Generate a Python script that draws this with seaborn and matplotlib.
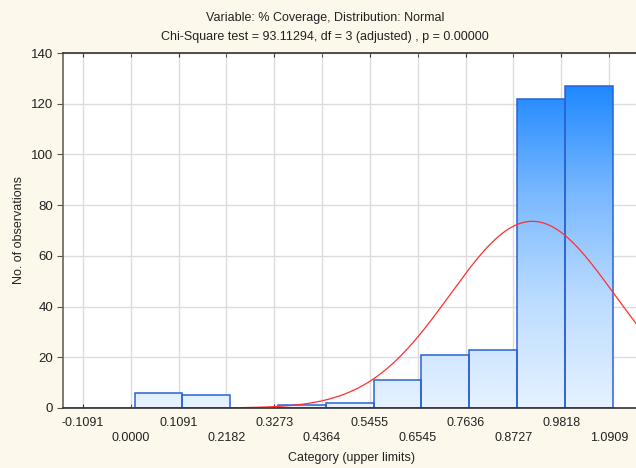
import numpy as np
import pandas as pd
import matplotlib
matplotlib.use("Agg")
import matplotlib.pyplot as plt
from matplotlib.colors import LinearSegmentedColormap
import seaborn as sns

# Histogram classes (upper limits) and observed counts
tick_values = [-0.1091, 0.0000, 0.1091, 0.2182, 0.3273, 0.4364,
               0.5455, 0.6545, 0.7636, 0.8727, 0.9818, 1.0909]
tick_labels = ["-0.1091", "0.0000", "0.1091", "0.2182", "0.3273", "0.4364",
               "0.5455", "0.6545", "0.7636", "0.8727", "0.9818", "1.0909"]
bin_edges = [0.0085, 0.1176, 0.2267, 0.3358, 0.4449, 0.5540,
             0.6630, 0.7721, 0.8812, 0.9903, 1.0994]
counts = [6, 5, 0, 1, 2, 11, 21, 23, 122, 127]

# Fitted normal distribution parameters
fit_mean = 0.916
fit_sd = 0.188

y_ticks = [0, 20, 40, 60, 80, 100, 120, 140]

sns.set_style("white")
plt.rcParams["font.family"] = ["Liberation Sans", "DejaVu Sans"]

fig = plt.figure(figsize=(6.36, 4.68), dpi=100)
fig.patch.set_facecolor("#fdf8ec")
ax = fig.add_axes([63 / 636, 60 / 468, 577 / 636, 355 / 468])
ax.set_facecolor("white")

edges = np.array(bin_edges)
centers = (edges[:-1] + edges[1:]) / 2
width = edges[1] - edges[0]
df = pd.DataFrame({"center": centers, "count": counts})

sns.histplot(data=df, x="center", weights="count", bins=bin_edges, ax=ax,
             stat="count", element="bars", fill=True,
             facecolor="none", edgecolor="#2a62d6", linewidth=1.1,
             alpha=1, zorder=3)

xlim = (-0.1547, 1.1616)
ylim = (0, 140)

# Vertical blue gradient clipped to each bar
cmap = LinearSegmentedColormap.from_list(
    "cov", ["#e6f2ff", "#bcdcff", "#7ab8ff", "#1e88ff"])
grad = np.linspace(0, 1, 256).reshape(-1, 1)
top_val = max(counts)
for p in list(ax.patches):
    if p.get_height() <= 0:
        p.set_visible(False)
        continue
    im = ax.imshow(grad, cmap=cmap, origin="lower", aspect="auto",
                   extent=(xlim[0], xlim[1], 0, top_val), zorder=2,
                   interpolation="bilinear")
    im.set_clip_path(p)

# Expected frequencies from the fitted normal curve
xs = np.linspace(xlim[0], xlim[1], 400)
expected = (sum(counts) * width / (fit_sd * np.sqrt(2 * np.pi))
            * np.exp(-0.5 * ((xs - fit_mean) / fit_sd) ** 2))
sns.lineplot(x=xs, y=expected, ax=ax, color="#ff3030", linewidth=0.9,
             zorder=4)

ax.set_xlim(*xlim)
ax.set_ylim(*ylim)

ax.set_xticks(tick_values[0::2], tick_labels[0::2])
ax.set_xticks(tick_values[1::2], tick_labels[1::2], minor=True)
ax.set_yticks(y_ticks, [str(v) for v in y_ticks])

ax.grid(True, which="both", axis="x", color="#dcdcdc", linewidth=1.0, zorder=0)
ax.grid(True, which="major", axis="y", color="#dcdcdc", linewidth=1.0, zorder=0)
ax.set_axisbelow(True)

ax.tick_params(axis="x", which="both", direction="in", length=3,
               top=True, bottom=True, colors="#333333", labelsize=9,
               labelcolor="#222222")
ax.tick_params(axis="x", which="major", pad=6.5)
ax.tick_params(axis="x", which="minor", pad=17.5)
ax.tick_params(axis="y", direction="out", length=4, left=True, right=True,
               colors="#555555", labelsize=9.5, labelcolor="#222222", pad=3)

for side in ["top", "bottom", "left", "right"]:
    ax.spines[side].set_visible(True)
    ax.spines[side].set_color("#333333")
    ax.spines[side].set_linewidth(1.2)
    ax.spines[side].set_zorder(5)
ax.spines["left"].set_color("#6b6257")

ax.set_xlabel("Category (upper limits)", fontsize=9, color="#222222")
ax.xaxis.set_label_coords(0.5, -0.125)
ax.set_ylabel("No. of observations", fontsize=9, color="#222222")
ax.yaxis.set_label_coords(-0.066, 0.5)

fig.text(325 / 636, 1 - 18 / 468, "Variable: % Coverage, Distribution: Normal",
         ha="center", va="center", fontsize=9, color="#222222")
fig.text(325 / 636, 1 - 37 / 468,
         "Chi-Square test = 93.11294, df = 3 (adjusted) , p = 0.00000",
         ha="center", va="center", fontsize=9, color="#222222")

fig.savefig("out.png", dpi=100, facecolor=fig.get_facecolor())
